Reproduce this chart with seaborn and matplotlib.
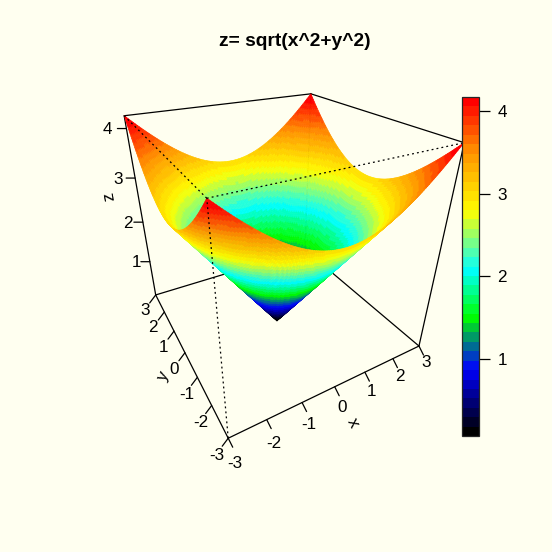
import numpy as np
import matplotlib
matplotlib.use("Agg")
import matplotlib.pyplot as plt
import seaborn as sns
from matplotlib.colors import LinearSegmentedColormap, Normalize
from matplotlib.cm import ScalarMappable
from mpl_toolkits.mplot3d import proj3d

sns.set_style("white")
plt.rcParams['font.family'] = ['Liberation Sans', 'DejaVu Sans']
plt.rcParams['text.color'] = 'black'
plt.rcParams['ytick.color'] = 'black'
plt.rcParams['ytick.labelcolor'] = 'black'
BG = "#FFFFF0"

TITLE = "z= sqrt(x^2+y^2)"
TICKS_XY = [-3, -2, -1, 0, 1, 2, 3]
TICKS_Z = [1, 2, 3, 4]
ZLIM = (0.07, 4.24)
KEY_RANGE = (0.07, 4.17)
# The surface is the function named in the chart's title
xg = np.arange(-60, 61) / 20
yg = np.arange(-60, 61) / 20
X, Y = np.meshgrid(xg, yg)
Z = np.sqrt(X**2 + Y**2)
ZF = 0.25 * (Z[:-1, :-1] + Z[1:, :-1] + Z[:-1, 1:] + Z[1:, 1:])

cmap = LinearSegmentedColormap.from_list("key", [
    (0.0, "#000000"), (0.19, "#0000FF"), (0.27, "#008080"), (0.346, "#00FF00"),
    (0.49, "#00FFFF"), (0.666, "#FFFF00"), (0.85, "#FF9000"), (1.0, "#FF0000")], N=36)
norm = Normalize(*KEY_RANGE)

fig = plt.figure(figsize=(5.52, 5.52), dpi=100, facecolor=BG)
ax = fig.add_axes([90.08/552, 130.01/552, 0.6593, 0.6593], projection="3d", computed_zorder=False)
ax.set_axis_off()
ax.patch.set_alpha(0)
ax.set_xlim(-3, 3); ax.set_ylim(-3, 3); ax.set_zlim(*ZLIM)
zl, zt = ZLIM
ax.set_box_aspect((1, 1.021, 1.004))
ax.view_init(29.46, -119.29)
ax.set_proj_type('persp', focal_length=0.215)

surf = ax.plot_surface(X, Y, Z, facecolors=cmap(norm(ZF)), shade=False, rstride=1, cstride=1,
                       linewidth=0.4, antialiased=True, zorder=2)
surf.set_clip_on(False)
def edge(a, b, ls="-", zo=1):
    ax.plot(*zip(a, b), color="k", lw=0.9, ls=ls, zorder=zo, clip_on=False)
edge((-3,-3,zl),(3,-3,zl)); edge((-3,-3,zl),(-3,3,zl)); edge((3,-3,zl),(3,3,zl)); edge((-3,3,zl),(3,3,zl))
edge((-3,3,zl),(-3,3,zt)); edge((3,-3,zl),(3,-3,zt)); edge((3,3,zl),(3,3,zt))
edge((-3,3,zt),(3,3,zt)); edge((3,3,zt),(3,-3,zt))
for a,b in [((-3,-3,zt),(-3,3,zt)),((-3,-3,zt),(3,-3,zt)),((-3,-3,zl),(-3,-3,zt))]:
    edge(a,b,ls=(0,(1.5,2.5)),zo=3)

def P(x,y,z):
    px,py,_ = proj3d.proj_transform(x,y,z,ax.get_proj())
    return (px,py)
def tick(x,y,z,d,lab,o):
    ax.annotate("",xy=P(x,y,z),xytext=d,textcoords="offset pixels",
                arrowprops=dict(arrowstyle="-",color="k",lw=0.9,shrinkA=0,shrinkB=0),annotation_clip=False)
    ax.annotate(lab,xy=P(x,y,z),xytext=o,textcoords="offset pixels",ha="center",va="center",
                fontsize=12.3,annotation_clip=False)
for v in TICKS_XY:
    tick(v,-3,zl,(4.5,-9),str(v),(7,-20.5+1.5*v))
    tick(-3,v,zl,(-6,-8),str(v),(-11,-16.5+0.4*v))
for v in TICKS_Z:
    tick(-3,3,v,(-9,0),str(v),(-11-2*v,-1))
def axl(x,y,z,lab,o,rot):
    ax.annotate(lab,xy=P(x,y,z),xytext=o,textcoords="offset pixels",ha="center",va="center",
                fontsize=12.3,rotation=rot,annotation_clip=False)
axl(0,-3,zl,"x",(18,-36),-63)
axl(-3,0,zl,"y",(-22,-24),64)
axl(-3,3,2.3,"z",(-32,13),100)

cax = fig.add_axes([461.5/552, (552-436)/552, 17/552, 339/552])
cb = fig.colorbar(ScalarMappable(norm, cmap), cax=cax, ticks=TICKS_Z)
cb.ax.tick_params(length=7.7, width=0.9, labelsize=12.3, pad=6, color="k", right=True)
cb.outline.set_linewidth(0.9)
fig.text(295/552, 1-41/552, TITLE, ha="center", va="center", fontsize=13.9, fontweight="bold")
fig.savefig("out.png", dpi=100, facecolor=BG)
